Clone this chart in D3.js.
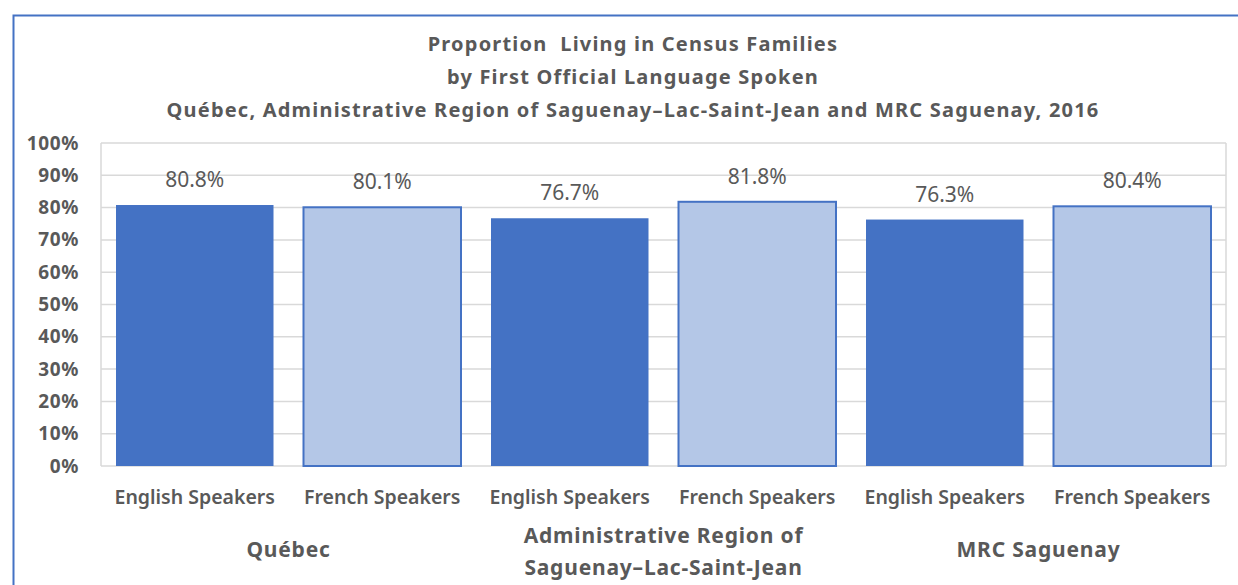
<!DOCTYPE html>
<html>
<head>
<meta charset="utf-8">
<script src="https://cdn.jsdelivr.net/npm/d3@7"></script>
<style>
  body { margin: 0; background: #fff; }
  text { font-family: "Noto Sans", "Open Sans", sans-serif; fill: #595959; }
</style>
</head>
<body>
<svg id="chart" width="1238" height="585"></svg>
<script>
'use strict';

var regions = ['Québec', 'Administrative Region of|Saguenay–Lac-Saint-Jean', 'MRC Saguenay'];
var speakers = ['English Speakers', 'French Speakers'];
var values = [80.8, 80.1, 76.7, 81.8, 76.3, 80.4];
var yTicks = [0, 10, 20, 30, 40, 50, 60, 70, 80, 90, 100];
var titleLines = ['Proportion  Living in Census Families',
                  'by First Official Language Spoken',
                  'Québec, Administrative Region of Saguenay–Lac-Saint-Jean and MRC Saguenay, 2016'];

var svg = d3.select('#chart');
var plot = {left: 101, right: 1226, top: 143, bottom: 466};

// outer chart border (runs off the right and bottom of the picture)
svg.append('rect')
    .attr('x', 13.5).attr('y', 15.5)
    .attr('width', 1300).attr('height', 700)
    .attr('fill', 'none')
    .attr('stroke', '#4472C4')
    .attr('stroke-width', 2);

svg.selectAll('.title')
    .data(titleLines)
  .enter().append('text')
    .attr('class', 'title')
    .attr('x', 633)
    .attr('y', function(d, i) { return 51 + i * 33; })
    .attr('text-anchor', 'middle')
    .attr('font-size', 20)
    .attr('letter-spacing', 1.2)
    .attr('font-weight', 'bold')
    .style('white-space', 'pre')
    .text(function(d) { return d; });

var bars = [];
regions.forEach(function(r, i) {
  speakers.forEach(function(s, j) {
    bars.push({key: i + '-' + j, region: i, lang: j, label: s, value: values[i * 2 + j]});
  });
});

var x = d3.scaleBand()
    .domain(bars.map(function(d) { return d.key; }))
    .range([plot.left, plot.right])
    .paddingInner(0.16)
    .paddingOuter(0.08);

var y = d3.scaleLinear()
    .domain([0, 100])
    .range([plot.bottom, plot.top]);

// gridlines
svg.append('g')
  .selectAll('line')
    .data(yTicks)
  .enter().append('line')
    .attr('x1', plot.left).attr('x2', plot.right)
    .attr('y1', function(d) { return y(d); })
    .attr('y2', function(d) { return y(d); })
    .attr('stroke', '#D9D9D9')
    .attr('stroke-width', 1.5);

svg.append('line')
    .attr('x1', plot.left).attr('x2', plot.left)
    .attr('y1', plot.top).attr('y2', plot.bottom)
    .attr('stroke', '#D9D9D9').attr('stroke-width', 1.5);
svg.append('line')
    .attr('x1', plot.right).attr('x2', plot.right)
    .attr('y1', plot.top).attr('y2', plot.bottom)
    .attr('stroke', '#D9D9D9').attr('stroke-width', 1.5);

// y axis labels
var yAxis = d3.axisLeft(y)
    .tickValues(yTicks)
    .tickSize(0)
    .tickPadding(0)
    .tickFormat(function(d) { return d + '%'; });
var yg = svg.append('g')
    .attr('transform', 'translate(79,0)')
    .call(yAxis);
yg.select('.domain').remove();
yg.selectAll('text')
    .attr('font-size', 19)
    .attr('letter-spacing', 0.6)
    .attr('font-weight', 'bold')
    .attr('font-family', null)
    .attr('fill', null);

// bars
svg.append('g')
  .selectAll('rect')
    .data(bars)
  .enter().append('rect')
    .attr('x', function(d) { return x(d.key); })
    .attr('y', function(d) { return y(d.value); })
    .attr('width', x.bandwidth())
    .attr('height', function(d) { return y(0) - y(d.value); })
    .attr('fill', function(d) { return d.lang === 0 ? '#4472C4' : '#B4C7E7'; })
    .attr('stroke', function(d) { return d.lang === 0 ? 'none' : '#4472C4'; })
    .attr('stroke-width', 2);

// value labels
svg.append('g')
  .selectAll('text')
    .data(bars)
  .enter().append('text')
    .attr('x', function(d) { return x(d.key) + x.bandwidth() / 2; })
    .attr('y', function(d) { return y(d.value) - 18; })
    .attr('text-anchor', 'middle')
    .attr('font-size', 21)
    .text(function(d) { return d.value.toFixed(1) + '%'; });

// category labels
svg.append('g')
  .selectAll('text')
    .data(bars)
  .enter().append('text')
    .attr('x', function(d) { return x(d.key) + x.bandwidth() / 2; })
    .attr('y', 504)
    .attr('text-anchor', 'middle')
    .attr('font-size', 19.5)
    .attr('font-weight', 600)
    .text(function(d) { return d.label; });

// region labels
var groupCenter = function(i) {
  var a = x(i + '-0'), b = x(i + '-1') + x.bandwidth();
  return (a + b) / 2;
};
var rg = svg.append('g')
  .selectAll('text')
    .data(regions)
  .enter().append('text')
    .attr('x', function(d, i) { return groupCenter(i); })
    .attr('y', function(d) { return d.indexOf('|') >= 0 ? 543 : 557; })
    .attr('text-anchor', 'middle')
    .attr('font-size', 21)
    .attr('letter-spacing', 0.8)
    .attr('font-weight', 'bold');
rg.selectAll('tspan')
    .data(function(d) { return d.split('|'); })
  .enter().append('tspan')
    .attr('x', function() { return this.parentNode.getAttribute('x'); })
    .attr('dy', function(d, i) { return i === 0 ? 0 : 32; })
    .text(function(d) { return d; });
</script>
</body>
</html>
